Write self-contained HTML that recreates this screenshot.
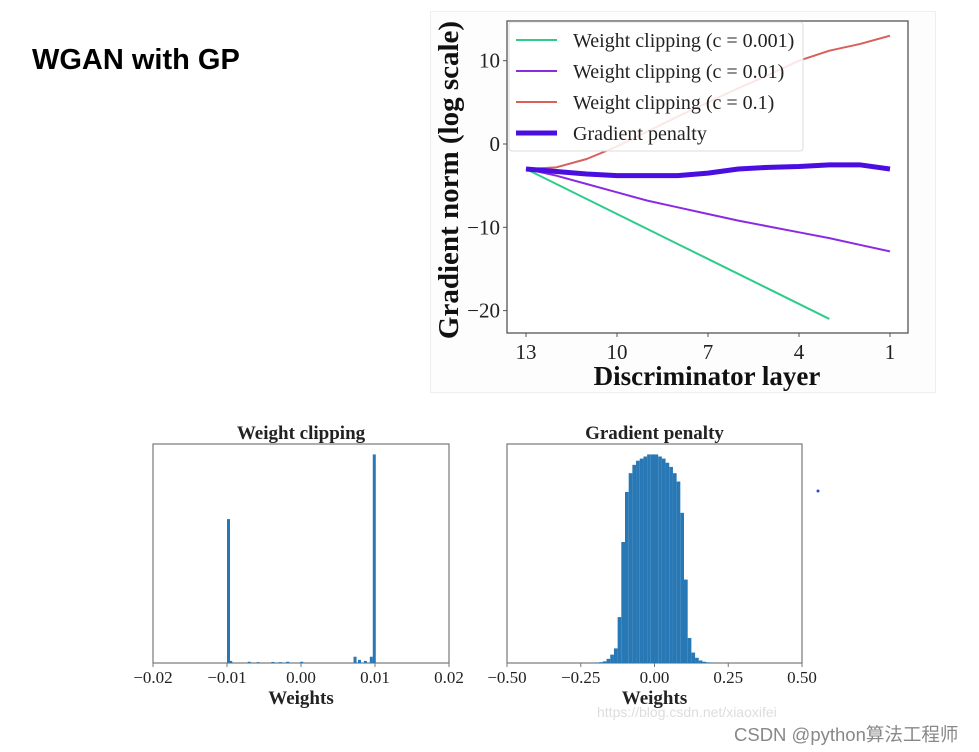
<!DOCTYPE html>
<html><head><meta charset="utf-8"><style>
html,body{margin:0;padding:0;background:#fff;width:979px;height:752px;overflow:hidden}
svg{display:block;font-family:"Liberation Serif",serif}
</style></head><body>
<svg width="979" height="752">
<text x="32" y="69" font-family="Liberation Sans, sans-serif" font-weight="bold" font-size="29">WGAN with GP</text>
<rect x="430.5" y="11.5" width="505" height="381" fill="#fdfdfd" stroke="#eee"/>
<g id="top"></g>
<g id="hl"></g>
<g id="hr"></g>
<circle cx="818" cy="491" r="1.5" fill="#3344dd"/>
<text x="597" y="717" font-family="Liberation Sans, sans-serif" font-size="14" fill="#ddd">https://blog.csdn.net/xiaoxifei</text>
<text x="734" y="741" font-family="Liberation Sans, Noto Sans CJK SC, sans-serif" font-size="18.5" fill="#888">CSDN @python算法工程师</text>
</svg>
<script>
const layers=[13,12,11,10,9,8,7,6,5,4,3,2,1];
const green=[-3,-4.8,-6.6,-8.4,-10.2,-12,-13.8,-15.6,-17.4,-19.2,-21];
const purple=[-3,-3.8,-4.8,-5.8,-6.8,-7.6,-8.4,-9.2,-9.9,-10.6,-11.3,-12.1,-12.9];
const red=[-3,-2.8,-1.8,-0.3,1.5,3.3,5,6.7,8.3,10,11.2,12,13];
const gp=[-3,-3.3,-3.6,-3.8,-3.8,-3.8,-3.5,-3.0,-2.8,-2.7,-2.5,-2.5,-3.0];
const yTicks=[10,0,-10,-20], yTickLabels=["10","0","\u221210","\u221220"];
const xTicks=[13,10,7,4,1];
const seriesNames=["Weight clipping (c = 0.001)","Weight clipping (c = 0.01)","Weight clipping (c = 0.1)","Gradient penalty"];
const wcEdges=[-0.01,-0.0097,-0.0072,-0.006,-0.004,-0.003,-0.002,-0.0001,0.0071,0.0077,0.0085,0.0093,0.0097];
const wcCounts=[0.69,0.01,0.006,0.004,0.005,0.004,0.006,0.006,0.03,0.015,0.01,0.03,1.0];
const gpCounts=[0.002,0.004,0.008,0.02,0.04,0.07,0.22,0.58,0.82,0.91,0.95,0.97,0.98,0.99,1.0,1.0,1.0,0.99,0.98,0.96,0.94,0.91,0.87,0.72,0.40,0.12,0.05,0.025,0.012,0.006,0.003,0.001];
const gpStart=-0.2, gpWidth=0.0125;
const NS="http://www.w3.org/2000/svg";
function mk(p,tag,at,txt){const e=document.createElementNS(NS,tag);for(const k in at)e.setAttribute(k,at[k]);if(txt!==undefined)e.textContent=txt;p.appendChild(e);return e;}
const T=document.getElementById('top');
const X=l=>526+(13-l)*(890-526)/12, Y=v=>144-v*8.33;
mk(T,'rect',{x:507,y:21,width:401,height:312,fill:'#fff',stroke:'#555','stroke-width':1.3});
yTicks.forEach((v,i)=>{mk(T,'line',{x1:503,x2:507,y1:Y(v),y2:Y(v),stroke:'#555'});
 const t=mk(T,'text',{x:500,y:Y(v)+7,'text-anchor':'end','font-size':21,fill:'#222'},yTickLabels[i]);
 });
xTicks.forEach(v=>{mk(T,'line',{x1:X(v),x2:X(v),y1:333,y2:337,stroke:'#555'});
 const t=mk(T,'text',{x:X(v),y:359,'text-anchor':'middle','font-size':21,fill:'#222'},String(v));
 });
let t=mk(T,'text',{x:707,y:385,'text-anchor':'middle','font-size':27,'font-weight':'bold',fill:'#111'},'Discriminator layer');

t=mk(T,'text',{x:0,y:0,transform:'translate(458,180) rotate(-90)','text-anchor':'middle','font-size':29,'font-weight':'bold',fill:'#111'},'Gradient norm (log scale)');

const cols=['#2ecc8a','#8a2be2','#d9605a','#4a0ee0'], widths=[2,2,2,5];
[green,purple,red,gp].forEach((s,i)=>{const d=s.map((v,j)=>(j?'L':'M')+X(layers[j])+','+Y(v)).join('');
 const p=mk(T,'path',{d:d,fill:'none',stroke:cols[i],'stroke-width':widths[i],'stroke-linejoin':'round'});
 });
const lg=mk(T,'rect',{x:509,y:22,width:294,height:129,fill:'rgba(255,255,255,0.85)',stroke:'#ddd',rx:3});

seriesNames.forEach((n,i)=>{const y=40+i*31;mk(T,'line',{x1:516,x2:557,y1:y,y2:y,stroke:cols[i],'stroke-width':widths[i]});
 const e=mk(T,'text',{x:573,y:y+7,'font-size':20,fill:'#222'},n);
 });
function hist(G,x0,x1,ticks,labels,title,bars,minW){
 const top=444,bot=663,H=bot-top;
 mk(G,'rect',{x:x0,y:top,width:x1-x0,height:H,fill:'#fff',stroke:'#777','stroke-width':1.2});
 const sx=v=>x0+(v-ticks[0])/(ticks[ticks.length-1]-ticks[0])*(x1-x0), sy=c=>bot-c*H/1.05;
 bars.forEach(b=>{const r=mk(G,'rect',{x:sx(b[0]),y:sy(b[2]),width:Math.max(minW,sx(b[1])-sx(b[0])),height:bot-sy(b[2]),fill:'#2878b5'});
  });
 ticks.forEach((v,i)=>{mk(G,'line',{x1:sx(v),x2:sx(v),y1:bot,y2:bot+4,stroke:'#777'});
  const e=mk(G,'text',{x:sx(v),y:683,'text-anchor':'middle','font-size':17,fill:'#222'},labels[i]);
  });
 let e=mk(G,'text',{x:(x0+x1)/2,y:704,'text-anchor':'middle','font-size':19,'font-weight':'bold',fill:'#222'},'Weights');
 
 e=mk(G,'text',{x:(x0+x1)/2,y:439,'text-anchor':'middle','font-size':19,'font-weight':'bold',fill:'#222'},title);
 
}
const wcBars=wcEdges.map((e,i)=>[e,e+0.0003,wcCounts[i]]);
hist(document.getElementById('hl'),153,449,[-0.02,-0.01,0,0.01,0.02],["\u22120.02","\u22120.01","0.00","0.01","0.02"],'Weight clipping',wcBars,3);
const gpBars=gpCounts.map((c,i)=>[gpStart+i*gpWidth,gpStart+(i+1)*gpWidth,c]);
hist(document.getElementById('hr'),507,802,[-0.5,-0.25,0,0.25,0.5],["\u22120.50","\u22120.25","0.00","0.25","0.50"],'Gradient penalty',gpBars,1);
</script>
</body></html>
